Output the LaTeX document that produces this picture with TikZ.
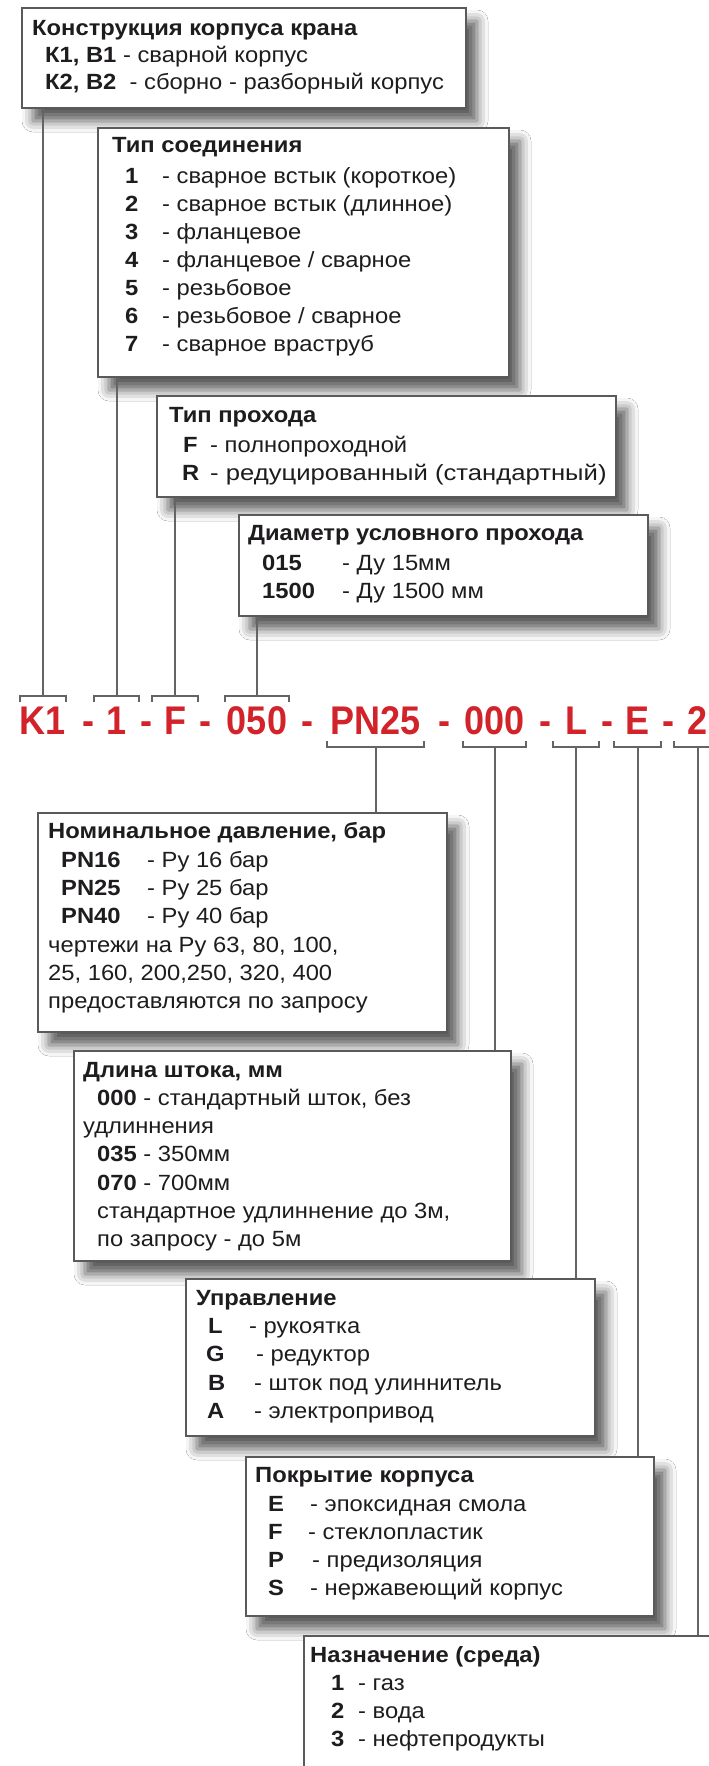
\documentclass[tikz,border=0pt]{standalone}
\usepackage{fontspec}
\setmainfont{Liberation Sans}[FakeStretch=1.08]
\newfontfamily\codefont{Liberation Sans}[FakeStretch=0.9]
\usetikzlibrary{shadows.blur}
\definecolor{codered}{RGB}{210,35,42}
\definecolor{framegray}{RGB}{90,90,90}
\definecolor{linegray}{RGB}{100,100,100}
\definecolor{txt}{RGB}{30,28,30}
\begin{document}
\begin{tikzpicture}[x=1pt,y=-1pt,
  box/.style={draw=framegray, line width=2pt, fill=white, anchor=north west, inner sep=0pt,
    blur shadow={shadow xshift=11pt, shadow yshift=-13pt, shadow blur radius=11pt, shadow opacity=65}},
  conn/.style={draw=linegray, line width=2pt},
  bt/.style={anchor=base west, inner sep=0pt, font=\fontsize{22}{22}\selectfont\bfseries, text=txt},
  rt/.style={anchor=base west, inner sep=0pt, font=\fontsize{22}{22}\selectfont, text=txt},
  code/.style={anchor=base, inner sep=0pt, text height=32pt, text depth=7pt,
    font=\codefont\fontsize{40}{40}\selectfont\bfseries, text=codered},
  codedash/.style={anchor=base, inner sep=0pt, font=\codefont\fontsize{40}{40}\selectfont\bfseries, text=codered},
]
\useasboundingbox[fill=white] (0,0) rectangle (709,1766);
\clip (0,0) rectangle (709,1766);

% ---------- boxes ----------
\node[box, minimum width=444pt, minimum height=100pt] (b1) at (21,7) {};
\node[box, minimum width=411pt, minimum height=249pt] (b2) at (97,127) {};
\node[box, minimum width=459pt, minimum height=101pt] (b3) at (156,395) {};
\node[box, minimum width=409pt, minimum height=101pt] (b4) at (238,514) {};
\node[box, minimum width=409pt, minimum height=219pt] (b5) at (37,812) {};
\node[box, minimum width=437pt, minimum height=210pt] (b6) at (73,1050) {};
\node[box, minimum width=409pt, minimum height=157pt] (b7) at (185,1278) {};
\node[box, minimum width=408pt, minimum height=159pt] (b8) at (245,1456) {};
\node[box, minimum width=460pt, minimum height=200pt] (b9) at (303,1635) {};

% ---------- code line ----------
\node[code, minimum width=46pt] (cK) at (43,734) {K1};
\node[code, minimum width=45pt] (cT) at (116.5,734) {1};
\node[code, minimum width=46pt] (cF) at (175,734) {F};
\node[code, minimum width=64pt] (cD) at (257,734) {050};
\node[code, minimum width=97pt] (cP) at (375.5,734) {PN25};
\node[code, minimum width=63pt] (cS) at (494.5,734) {000};
\node[code, minimum width=46pt] (cL) at (576,734) {L};
\node[code, minimum width=47pt] (cE) at (637.5,734) {E};
\node[code, minimum width=47pt] (cN) at (697.5,734) {2};
\node[codedash] (d1) at (88,734) {-};
\node[codedash] (d2) at (146,734) {-};
\node[codedash] (d3) at (205,734) {-};
\node[codedash] (d4) at (307,734) {-};
\node[codedash] (d5) at (444,734) {-};
\node[codedash] (d6) at (545,734) {-};
\node[codedash] (d7) at (607,734) {-};
\node[codedash] (d8) at (668,734) {-};

% ---------- brackets and connectors (upper) ----------
\foreach \n/\b in {cK/b1, cT/b2, cF/b3, cD/b4}{
  \draw[conn] (\n.north west) -- ([yshift=6pt]\n.north west) -- ([yshift=6pt]\n.north east) -- (\n.north east);
  \draw[conn] ([yshift=6pt]\n.north) -- (\n.north |- \b.south);
}
% ---------- brackets and connectors (lower) ----------
\foreach \n/\b in {cP/b5, cS/b6, cL/b7, cE/b8, cN/b9}{
  \draw[conn] (\n.south west) -- ([yshift=-6pt]\n.south west) -- ([yshift=-6pt]\n.south east) -- (\n.south east);
  \draw[conn] ([yshift=-6pt]\n.south) -- (\n.south |- \b.north);
}

% ---------- box 1 ----------
\node[bt] (b1h) at (32,36) {Конструкция корпуса крана};
\node[rt] (b1l1) at (45,63) {\bfseries К1, В1\mdseries{} - сварной корпус};
\node[rt] (b1l2) at (45,90) {\bfseries К2, В2\mdseries\ \ - сборно - разборный корпус};

% ---------- box 2 ----------
\node[bt] (b2h) at (112,153) {Тип соединения};
\node[bt] (b2k1) at (125,183) {1};
\node[rt] (b2v1) at (162,183) {- сварное встык (короткое)};
\node[bt] (b2k2) at (125,211) {2};
\node[rt] (b2v2) at (162,211) {- сварное встык (длинное)};
\node[bt] (b2k3) at (125,239) {3};
\node[rt] (b2v3) at (162,239) {- фланцевое};
\node[bt] (b2k4) at (125,267) {4};
\node[rt] (b2v4) at (162,267) {- фланцевое / сварное};
\node[bt] (b2k5) at (125,295) {5};
\node[rt] (b2v5) at (162,295) {- резьбовое};
\node[bt] (b2k6) at (125,323) {6};
\node[rt] (b2v6) at (162,323) {- резьбовое / сварное};
\node[bt] (b2k7) at (125,351) {7};
\node[rt] (b2v7) at (162,351) {- сварное враструб};

% ---------- box 3 ----------
\node[bt] (b3h) at (169,422) {Тип прохода};
\node[bt] (b3k1) at (183,452) {F};
\node[rt] (b3v1) at (210,452) {- полнопроходной};
\node[bt] (b3k2) at (182,480) {R};
\node[rt] (b3v2) at (210,480) {\scalebox{1.08}[1]{- редуцированный (стандартный)}};

% ---------- box 4 ----------
\node[bt] (b4h) at (248,540) {Диаметр условного прохода};
\node[bt] (b4k1) at (262,570) {015};
\node[rt] (b4v1) at (342,570) {- Ду 15мм};
\node[bt] (b4k2) at (262,598) {1500};
\node[rt] (b4v2) at (342,598) {- Ду 1500 мм};

% ---------- box 5 ----------
\node[bt] (b5h) at (48,838) {Номинальное давление, бар};
\node[bt] (b5k1) at (61,867) {PN16};
\node[rt] (b5v1) at (147,867) {- Ру 16 бар};
\node[bt] (b5k2) at (61,895) {PN25};
\node[rt] (b5v2) at (147,895) {- Ру 25 бар};
\node[bt] (b5k3) at (61,923) {PN40};
\node[rt] (b5v3) at (147,923) {- Ру 40 бар};
\node[rt] (b5n1) at (48,952) {чертежи на Ру 63, 80, 100,};
\node[rt] (b5n2) at (48,980) {25, 160, 200,250, 320, 400};
\node[rt] (b5n3) at (48,1008) {предоставляются по запросу};

% ---------- box 6 ----------
\node[bt] (b6h) at (83,1077) {Длина штока, мм};
\node[rt] (b6l1) at (97,1105) {\bfseries 000\mdseries{} - стандартный шток, без};
\node[rt] (b6l2) at (83,1133) {удлиннения};
\node[rt] (b6l3) at (97,1161) {\bfseries 035\mdseries{} - 350мм};
\node[rt] (b6l4) at (97,1190) {\bfseries 070\mdseries{} - 700мм};
\node[rt] (b6l5) at (97,1218) {стандартное удлиннение до 3м,};
\node[rt] (b6l6) at (97,1246) {по запросу - до 5м};

% ---------- box 7 ----------
\node[bt] (b7h) at (196,1305) {Управление};
\node[bt] (b7k1) at (208,1333) {L};
\node[rt] (b7v1) at (249,1333) {- рукоятка};
\node[bt] (b7k2) at (206,1361) {G};
\node[rt] (b7v2) at (256,1361) {- редуктор};
\node[bt] (b7k3) at (208,1390) {B};
\node[rt] (b7v3) at (254,1390) {- шток под улиннитель};
\node[bt] (b7k4) at (207,1418) {A};
\node[rt] (b7v4) at (254,1418) {- электропривод};

% ---------- box 8 ----------
\node[bt] (b8h) at (255,1482) {Покрытие корпуса};
\node[bt] (b8k1) at (268,1511) {E};
\node[rt] (b8v1) at (310,1511) {- эпоксидная смола};
\node[bt] (b8k2) at (268,1539) {F};
\node[rt] (b8v2) at (308,1539) {- стеклопластик};
\node[bt] (b8k3) at (268,1567) {P};
\node[rt] (b8v3) at (312,1567) {- предизоляция};
\node[bt] (b8k4) at (268,1595) {S};
\node[rt] (b8v4) at (310,1595) {- нержавеющий корпус};

% ---------- box 9 ----------
\node[bt] (b9h) at (310,1662) {Назначение (среда)};
\node[bt] (b9k1) at (331,1690) {1};
\node[rt] (b9v1) at (358,1690) {- газ};
\node[bt] (b9k2) at (331,1718) {2};
\node[rt] (b9v2) at (358,1718) {- вода};
\node[bt] (b9k3) at (331,1746) {3};
\node[rt] (b9v3) at (358,1746) {- нефтепродукты};
\end{tikzpicture}
\end{document}
